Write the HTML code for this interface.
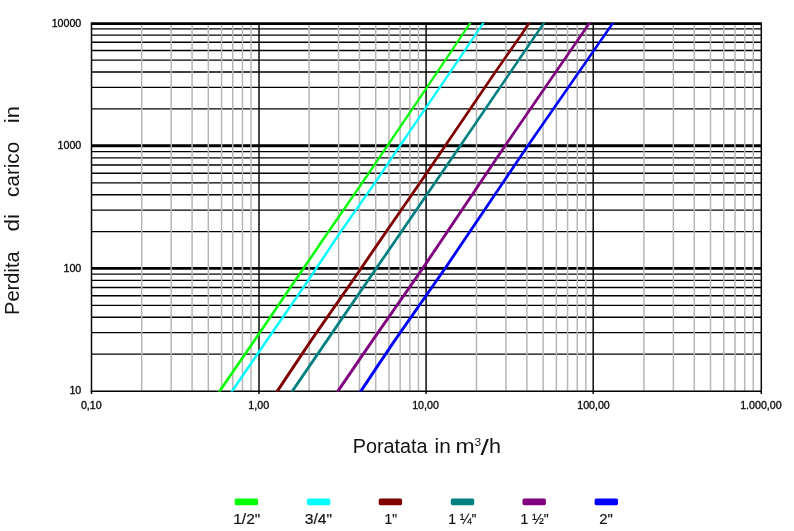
<!DOCTYPE html>
<html><head><meta charset="utf-8"><title>Perdita di carico</title>
<style>
html,body{margin:0;padding:0;background:#fff;}
body{width:794px;height:531px;overflow:hidden;}
svg{display:block;}
text{font-family:"Liberation Sans",sans-serif;fill:#131313;}
.tk{font-size:10.67px;fill:#0a0a0a;stroke:#0a0a0a;stroke-width:0.33px;}
.ttl{font-size:19.5px;}
.lg{font-size:15px;stroke:#131313;stroke-width:0.2px;}
</style></head><body>
<svg width="794" height="531" viewBox="0 0 794 531">
<rect width="794" height="531" fill="#fff"/>

<g stroke="#000" stroke-width="1.38">
<line x1="91.60" y1="354.13" x2="761.20" y2="354.13"/>
<line x1="91.60" y1="332.57" x2="761.20" y2="332.57"/>
<line x1="91.60" y1="317.27" x2="761.20" y2="317.27"/>
<line x1="91.60" y1="305.40" x2="761.20" y2="305.40"/>
<line x1="91.60" y1="295.70" x2="761.20" y2="295.70"/>
<line x1="91.60" y1="287.50" x2="761.20" y2="287.50"/>
<line x1="91.60" y1="280.40" x2="761.20" y2="280.40"/>
<line x1="91.60" y1="274.14" x2="761.20" y2="274.14"/>
<line x1="91.60" y1="231.67" x2="761.20" y2="231.67"/>
<line x1="91.60" y1="210.10" x2="761.20" y2="210.10"/>
<line x1="91.60" y1="194.80" x2="761.20" y2="194.80"/>
<line x1="91.60" y1="182.93" x2="761.20" y2="182.93"/>
<line x1="91.60" y1="173.24" x2="761.20" y2="173.24"/>
<line x1="91.60" y1="165.04" x2="761.20" y2="165.04"/>
<line x1="91.60" y1="157.93" x2="761.20" y2="157.93"/>
<line x1="91.60" y1="151.67" x2="761.20" y2="151.67"/>
<line x1="91.60" y1="108.90" x2="761.20" y2="108.90"/>
<line x1="91.60" y1="87.34" x2="761.20" y2="87.34"/>
<line x1="91.60" y1="72.03" x2="761.20" y2="72.03"/>
<line x1="91.60" y1="60.17" x2="761.20" y2="60.17"/>
<line x1="91.60" y1="50.47" x2="761.20" y2="50.47"/>
<line x1="91.60" y1="42.27" x2="761.20" y2="42.27"/>
<line x1="91.60" y1="35.17" x2="761.20" y2="35.17"/>
<line x1="91.60" y1="28.90" x2="761.20" y2="28.90"/>
</g>
<g stroke="#000">
<line x1="91.60" y1="145.72" x2="761.20" y2="145.72" stroke-width="3.0"/>
<line x1="91.60" y1="268.38" x2="761.20" y2="268.38" stroke-width="2.7"/>
</g>
<g stroke="#b6b6b6" stroke-width="1.5">
<line x1="141.69" y1="24.60" x2="141.69" y2="391.00"/>
<line x1="171.17" y1="24.60" x2="171.17" y2="391.00"/>
<line x1="192.08" y1="24.60" x2="192.08" y2="391.00"/>
<line x1="208.31" y1="24.60" x2="208.31" y2="391.00"/>
<line x1="221.56" y1="24.60" x2="221.56" y2="391.00"/>
<line x1="232.77" y1="24.60" x2="232.77" y2="391.00"/>
<line x1="242.48" y1="24.60" x2="242.48" y2="391.00"/>
<line x1="251.04" y1="24.60" x2="251.04" y2="391.00"/>
<line x1="309.09" y1="24.60" x2="309.09" y2="391.00"/>
<line x1="338.57" y1="24.60" x2="338.57" y2="391.00"/>
<line x1="359.48" y1="24.60" x2="359.48" y2="391.00"/>
<line x1="375.71" y1="24.60" x2="375.71" y2="391.00"/>
<line x1="388.96" y1="24.60" x2="388.96" y2="391.00"/>
<line x1="400.17" y1="24.60" x2="400.17" y2="391.00"/>
<line x1="409.88" y1="24.60" x2="409.88" y2="391.00"/>
<line x1="418.44" y1="24.60" x2="418.44" y2="391.00"/>
<line x1="476.49" y1="24.60" x2="476.49" y2="391.00"/>
<line x1="505.97" y1="24.60" x2="505.97" y2="391.00"/>
<line x1="526.88" y1="24.60" x2="526.88" y2="391.00"/>
<line x1="543.11" y1="24.60" x2="543.11" y2="391.00"/>
<line x1="556.36" y1="24.60" x2="556.36" y2="391.00"/>
<line x1="567.57" y1="24.60" x2="567.57" y2="391.00"/>
<line x1="577.28" y1="24.60" x2="577.28" y2="391.00"/>
<line x1="585.84" y1="24.60" x2="585.84" y2="391.00"/>
<line x1="643.89" y1="24.60" x2="643.89" y2="391.00"/>
<line x1="673.37" y1="24.60" x2="673.37" y2="391.00"/>
<line x1="694.28" y1="24.60" x2="694.28" y2="391.00"/>
<line x1="710.51" y1="24.60" x2="710.51" y2="391.00"/>
<line x1="723.76" y1="24.60" x2="723.76" y2="391.00"/>
<line x1="734.97" y1="24.60" x2="734.97" y2="391.00"/>
<line x1="744.68" y1="24.60" x2="744.68" y2="391.00"/>
<line x1="753.24" y1="24.60" x2="753.24" y2="391.00"/>
</g>
<g stroke="#000">
<line x1="90.80" y1="23.60" x2="761.80" y2="23.60" stroke-width="2.6"/>
<line x1="90.80" y1="391.15" x2="761.80" y2="391.15" stroke-width="1.45"/>
</g>
<g stroke="#0a0a0a">
<line x1="91.50" y1="23.60" x2="91.50" y2="393.90" stroke-width="1.5"/>
<line x1="259.00" y1="23.60" x2="259.00" y2="393.90" stroke-width="1.5"/>
<line x1="426.10" y1="23.60" x2="426.10" y2="393.90" stroke-width="1.5"/>
<line x1="593.20" y1="23.60" x2="593.20" y2="393.90" stroke-width="1.5"/>
<line x1="761.30" y1="23.60" x2="761.30" y2="393.90" stroke-width="1.5"/>
</g>
<defs><clipPath id="cp"><rect x="91.6" y="23.0" width="669.6" height="368.4"/></clipPath></defs>
<g clip-path="url(#cp)">
<polygon points="215.32,395.0 219.44,389.0 223.58,383.0 227.71,377.0 231.84,371.0 235.98,365.0 240.11,359.0 244.24,353.0 248.38,347.0 252.51,341.0 256.60,335.0 260.68,329.0 264.75,323.0 268.83,317.0 272.91,311.0 276.99,305.0 281.06,299.0 285.14,293.0 289.22,287.0 293.33,281.0 297.47,275.0 301.60,269.0 305.69,263.0 309.76,257.0 313.84,251.0 317.91,245.0 321.99,239.0 326.09,233.0 330.24,227.0 334.39,221.0 338.54,215.0 342.69,209.0 346.84,203.0 350.99,197.0 355.14,191.0 359.29,185.0 363.43,179.0 367.51,173.0 371.59,167.0 375.67,161.0 379.75,155.0 383.83,149.0 387.91,143.0 391.97,137.0 396.03,131.0 400.10,125.0 404.16,119.0 408.23,113.0 412.29,107.0 416.36,101.0 420.42,95.0 424.49,89.0 428.55,83.0 432.62,77.0 436.67,71.0 440.71,65.0 444.74,59.0 448.77,53.0 452.80,47.0 456.84,41.0 460.87,35.0 464.90,29.0 468.94,23.0 471.48,23.0 467.46,29.0 463.43,35.0 459.41,41.0 455.39,47.0 451.37,53.0 447.35,59.0 443.33,65.0 439.31,71.0 435.26,77.0 431.21,83.0 427.16,89.0 423.11,95.0 419.05,101.0 415.00,107.0 410.95,113.0 406.89,119.0 402.84,125.0 398.79,131.0 394.73,137.0 390.68,143.0 386.62,149.0 382.55,155.0 378.48,161.0 374.41,167.0 370.35,173.0 366.28,179.0 362.15,185.0 358.01,191.0 353.87,197.0 349.73,203.0 345.60,209.0 341.46,215.0 337.32,221.0 333.18,227.0 329.04,233.0 324.95,239.0 320.89,245.0 316.83,251.0 312.76,257.0 308.70,263.0 304.63,269.0 300.51,275.0 296.38,281.0 292.28,287.0 288.22,293.0 284.15,299.0 280.08,305.0 276.02,311.0 271.95,317.0 267.89,323.0 263.82,329.0 259.75,335.0 255.68,341.0 251.56,347.0 247.44,353.0 243.31,359.0 239.19,365.0 235.07,371.0 230.95,377.0 226.83,383.0 222.71,389.0 218.59,395.0" fill="#00ff00"/>
<polygon points="227.88,395.0 232.00,389.0 236.10,383.0 240.21,377.0 244.31,371.0 248.42,365.0 252.52,359.0 256.63,353.0 260.74,347.0 264.84,341.0 268.98,335.0 273.14,329.0 277.29,323.0 281.44,317.0 285.59,311.0 289.74,305.0 293.89,299.0 298.04,293.0 302.19,287.0 306.27,281.0 310.32,275.0 314.36,269.0 318.36,263.0 322.35,257.0 326.33,251.0 330.32,245.0 334.31,239.0 338.37,233.0 342.57,227.0 346.77,221.0 350.97,215.0 355.17,209.0 359.38,203.0 363.58,197.0 367.78,191.0 371.98,185.0 376.16,179.0 380.19,173.0 384.23,167.0 388.26,161.0 392.30,155.0 396.33,149.0 400.40,143.0 404.51,137.0 408.61,131.0 412.71,125.0 416.82,119.0 420.92,113.0 425.02,107.0 429.13,101.0 433.23,95.0 437.34,89.0 441.44,83.0 445.54,77.0 449.63,71.0 453.67,65.0 457.72,59.0 461.76,53.0 465.80,47.0 469.85,41.0 473.89,35.0 477.94,29.0 481.98,23.0 484.64,23.0 480.61,29.0 476.57,35.0 472.53,41.0 468.50,47.0 464.46,53.0 460.42,59.0 456.39,65.0 452.35,71.0 448.28,77.0 444.18,83.0 440.08,89.0 435.99,95.0 431.89,101.0 427.80,107.0 423.70,113.0 419.61,119.0 415.51,125.0 411.41,131.0 407.32,137.0 403.22,143.0 399.16,149.0 395.13,155.0 391.11,161.0 387.08,167.0 383.05,173.0 379.02,179.0 374.86,185.0 370.66,191.0 366.47,197.0 362.27,203.0 358.08,209.0 353.89,215.0 349.69,221.0 345.50,227.0 341.30,233.0 337.25,239.0 333.27,245.0 329.30,251.0 325.32,257.0 321.34,263.0 317.35,269.0 313.31,275.0 309.28,281.0 305.20,287.0 301.06,293.0 296.92,299.0 292.77,305.0 288.63,311.0 284.49,317.0 280.34,323.0 276.20,329.0 272.06,335.0 267.92,341.0 263.82,347.0 259.73,353.0 255.63,359.0 251.53,365.0 247.43,371.0 243.33,377.0 239.24,383.0 235.14,389.0 231.02,395.0" fill="#00ffff"/>
<polygon points="272.85,395.0 276.92,389.0 280.93,383.0 284.93,377.0 288.94,371.0 292.94,365.0 296.95,359.0 300.96,353.0 304.96,347.0 308.97,341.0 313.11,335.0 317.29,329.0 321.47,323.0 325.64,317.0 329.82,311.0 334.00,305.0 338.17,299.0 342.35,293.0 346.53,287.0 350.67,281.0 354.79,275.0 358.91,269.0 363.03,263.0 367.14,257.0 371.25,251.0 375.36,245.0 379.47,239.0 383.59,233.0 387.74,227.0 391.89,221.0 396.04,215.0 400.19,209.0 404.35,203.0 408.50,197.0 412.65,191.0 416.80,185.0 420.94,179.0 425.02,173.0 429.11,167.0 433.20,161.0 437.28,155.0 441.37,149.0 445.45,143.0 449.53,137.0 453.61,131.0 457.69,125.0 461.77,119.0 465.85,113.0 469.93,107.0 474.00,101.0 478.08,95.0 482.16,89.0 486.24,83.0 490.32,77.0 494.44,71.0 498.62,65.0 502.81,59.0 507.00,53.0 511.18,47.0 515.37,41.0 519.56,35.0 523.56,29.0 527.53,23.0 530.68,23.0 526.72,29.0 522.72,35.0 518.54,41.0 514.36,47.0 510.18,53.0 506.00,59.0 501.82,65.0 497.65,71.0 493.54,77.0 489.47,83.0 485.40,89.0 481.32,95.0 477.25,101.0 473.18,107.0 469.11,113.0 465.04,119.0 460.97,125.0 456.90,131.0 452.82,137.0 448.75,143.0 444.68,149.0 440.60,155.0 436.52,161.0 432.45,167.0 428.37,173.0 424.29,179.0 420.16,185.0 416.01,191.0 411.87,197.0 407.73,203.0 403.58,209.0 399.44,215.0 395.30,221.0 391.15,227.0 387.01,233.0 382.90,239.0 378.79,245.0 374.69,251.0 370.59,257.0 366.49,263.0 362.38,269.0 358.27,275.0 354.15,281.0 350.02,287.0 345.85,293.0 341.68,299.0 337.51,305.0 333.34,311.0 329.18,317.0 325.01,323.0 320.84,329.0 316.67,335.0 312.53,341.0 308.53,347.0 304.54,353.0 300.54,359.0 296.54,365.0 292.54,371.0 288.54,377.0 284.55,383.0 280.55,389.0 276.48,395.0" fill="#800000"/>
<polygon points="287.93,395.0 292.02,389.0 296.13,383.0 300.24,377.0 304.35,371.0 308.46,365.0 312.57,359.0 316.68,353.0 320.79,347.0 324.90,341.0 329.01,335.0 333.11,329.0 337.22,323.0 341.32,317.0 345.42,311.0 349.53,305.0 353.63,299.0 357.74,293.0 361.84,287.0 365.94,281.0 370.05,275.0 374.15,269.0 378.28,263.0 382.42,257.0 386.55,251.0 390.68,245.0 394.82,239.0 398.94,233.0 403.06,227.0 407.17,221.0 411.28,215.0 415.39,209.0 419.50,203.0 423.61,197.0 427.72,191.0 431.83,185.0 435.94,179.0 440.05,173.0 444.17,167.0 448.28,161.0 452.39,155.0 456.50,149.0 460.60,143.0 464.69,137.0 468.78,131.0 472.87,125.0 476.96,119.0 481.05,113.0 485.14,107.0 489.23,101.0 493.32,95.0 497.41,89.0 501.50,83.0 505.59,77.0 509.68,71.0 513.77,65.0 517.86,59.0 521.95,53.0 526.04,47.0 530.13,41.0 534.22,35.0 538.31,29.0 542.40,23.0 545.42,23.0 541.34,29.0 537.26,35.0 533.17,41.0 529.09,47.0 525.01,53.0 520.93,59.0 516.85,65.0 512.76,71.0 508.68,77.0 504.60,83.0 500.52,89.0 496.44,95.0 492.36,101.0 488.27,107.0 484.19,113.0 480.11,119.0 476.03,125.0 471.95,131.0 467.86,137.0 463.78,143.0 459.69,149.0 455.59,155.0 451.48,161.0 447.38,167.0 443.28,173.0 439.17,179.0 435.07,185.0 430.97,191.0 426.86,197.0 422.76,203.0 418.66,209.0 414.55,215.0 410.45,221.0 406.35,227.0 402.25,233.0 398.13,239.0 394.00,245.0 389.88,251.0 385.75,257.0 381.62,263.0 377.50,269.0 373.41,275.0 369.31,281.0 365.21,287.0 361.12,293.0 357.02,299.0 352.92,305.0 348.83,311.0 344.73,317.0 340.64,323.0 336.54,329.0 332.44,335.0 328.35,341.0 324.24,347.0 320.14,353.0 316.04,359.0 311.93,365.0 307.83,371.0 303.73,377.0 299.63,383.0 295.52,389.0 291.44,395.0" fill="#008080"/>
<polygon points="333.43,395.0 337.55,389.0 341.66,383.0 345.76,377.0 349.86,371.0 353.97,365.0 358.07,359.0 362.18,353.0 366.28,347.0 370.38,341.0 374.55,335.0 378.73,329.0 382.91,323.0 387.09,317.0 391.27,311.0 395.45,305.0 399.63,299.0 403.82,293.0 408.00,287.0 412.18,281.0 416.36,275.0 420.54,269.0 424.59,263.0 428.63,257.0 432.66,251.0 436.70,245.0 440.73,239.0 444.77,233.0 448.80,227.0 452.83,221.0 456.87,215.0 460.90,209.0 464.94,203.0 468.97,197.0 473.01,191.0 477.04,185.0 481.07,179.0 485.11,173.0 489.14,167.0 493.18,161.0 497.21,155.0 501.24,149.0 505.32,143.0 509.45,137.0 513.59,131.0 517.72,125.0 521.85,119.0 525.98,113.0 530.11,107.0 534.24,101.0 538.37,95.0 542.50,89.0 546.63,83.0 550.76,77.0 554.89,71.0 559.02,65.0 563.15,59.0 567.29,53.0 571.42,47.0 575.55,41.0 579.68,35.0 583.81,29.0 587.94,23.0 591.08,23.0 586.96,29.0 582.84,35.0 578.72,41.0 574.59,47.0 570.47,53.0 566.35,59.0 562.22,65.0 558.10,71.0 553.98,77.0 549.86,83.0 545.73,89.0 541.61,95.0 537.49,101.0 533.36,107.0 529.24,113.0 525.12,119.0 521.00,125.0 516.87,131.0 512.75,137.0 508.63,143.0 504.56,149.0 500.53,155.0 496.50,161.0 492.48,167.0 488.45,173.0 484.42,179.0 480.40,185.0 476.37,191.0 472.35,197.0 468.32,203.0 464.29,209.0 460.27,215.0 456.24,221.0 452.21,227.0 448.19,233.0 444.16,239.0 440.14,245.0 436.11,251.0 432.08,257.0 428.06,263.0 424.01,269.0 419.83,275.0 415.66,281.0 411.49,287.0 407.32,293.0 403.14,299.0 398.97,305.0 394.80,311.0 390.63,317.0 386.45,323.0 382.28,329.0 378.11,335.0 373.95,341.0 369.85,347.0 365.76,353.0 361.66,359.0 357.56,365.0 353.47,371.0 349.37,377.0 345.28,383.0 341.18,389.0 337.06,395.0" fill="#800080"/>
<polygon points="356.43,395.0 360.51,389.0 364.50,383.0 368.49,377.0 372.47,371.0 376.47,365.0 380.51,359.0 384.54,353.0 388.58,347.0 392.62,341.0 396.79,335.0 400.99,329.0 405.18,323.0 409.38,317.0 413.58,311.0 417.77,305.0 421.97,299.0 426.17,293.0 430.36,287.0 434.56,281.0 438.76,275.0 442.96,269.0 447.03,263.0 451.08,257.0 455.14,251.0 459.19,245.0 463.24,239.0 467.29,233.0 471.34,227.0 475.40,221.0 479.45,215.0 483.50,209.0 487.55,203.0 491.61,197.0 495.66,191.0 499.71,185.0 503.76,179.0 507.82,173.0 511.87,167.0 515.92,161.0 519.97,155.0 524.03,149.0 528.13,143.0 532.29,137.0 536.46,131.0 540.62,125.0 544.78,119.0 548.95,113.0 553.11,107.0 557.28,101.0 561.44,95.0 565.60,89.0 569.77,83.0 573.93,77.0 578.09,71.0 582.26,65.0 586.42,59.0 590.58,53.0 594.75,47.0 598.91,41.0 603.08,35.0 607.24,29.0 611.40,23.0 614.43,23.0 610.27,29.0 606.12,35.0 601.97,41.0 597.81,47.0 593.66,53.0 589.50,59.0 585.35,65.0 581.20,71.0 577.04,77.0 572.89,83.0 568.74,89.0 564.58,95.0 560.43,101.0 556.27,107.0 552.12,113.0 547.97,119.0 543.81,125.0 539.66,131.0 535.50,137.0 531.35,143.0 527.26,149.0 523.21,155.0 519.17,161.0 515.13,167.0 511.09,173.0 507.04,179.0 503.00,185.0 498.96,191.0 494.92,197.0 490.87,203.0 486.83,209.0 482.79,215.0 478.75,221.0 474.70,227.0 470.66,233.0 466.62,239.0 462.58,245.0 458.53,251.0 454.49,257.0 450.45,263.0 446.38,269.0 442.20,275.0 438.01,281.0 433.82,287.0 429.64,293.0 425.45,299.0 421.26,305.0 417.08,311.0 412.89,317.0 408.70,323.0 404.51,329.0 400.33,335.0 396.17,341.0 392.14,347.0 388.11,353.0 384.08,359.0 380.05,365.0 376.07,371.0 372.09,377.0 368.12,383.0 364.14,389.0 360.06,395.0" fill="#0000ff"/>
</g>
<text class="tk" x="81.3" y="26.80" text-anchor="end">10000</text>
<text class="tk" x="81.3" y="149.27" text-anchor="end">1000</text>
<text class="tk" x="81.3" y="271.73" text-anchor="end">100</text>
<text class="tk" x="81.3" y="394.20" text-anchor="end">10</text>
<text class="tk" x="91.30" y="408.55" text-anchor="middle">0,10</text>
<text class="tk" x="258.70" y="408.55" text-anchor="middle">1,00</text>
<text class="tk" x="425.50" y="408.55" text-anchor="middle">10,00</text>
<text class="tk" x="593.50" y="408.55" text-anchor="middle">100,00</text>
<text class="tk" x="760.90" y="408.55" text-anchor="middle">1.000,00</text>
<text class="ttl" style="font-size:20.4px" transform="translate(18.9,314.9) rotate(-90)" textLength="63.5" lengthAdjust="spacingAndGlyphs">Perdita</text>
<text class="ttl" style="font-size:20.4px" transform="translate(18.9,231.6) rotate(-90)" textLength="17.7" lengthAdjust="spacingAndGlyphs">di</text>
<text class="ttl" style="font-size:20.4px" transform="translate(18.9,196.9) rotate(-90)" textLength="55.1" lengthAdjust="spacingAndGlyphs">carico</text>
<text class="ttl" style="font-size:20.4px" transform="translate(18.9,123.2) rotate(-90)" textLength="17.0" lengthAdjust="spacingAndGlyphs">in</text>
<text class="ttl" x="352.7" y="453.3" textLength="74.8" lengthAdjust="spacingAndGlyphs">Poratata</text>
<text class="ttl" x="434.6" y="453.3" textLength="16.2" lengthAdjust="spacingAndGlyphs">in</text>
<text class="ttl" x="455.4" y="453.3" textLength="19.2" lengthAdjust="spacingAndGlyphs">m</text>
<text x="474.4" y="446.0" style="font-size:10.4px" textLength="6.6" lengthAdjust="spacingAndGlyphs">3</text>
<text class="ttl" x="480.6" y="454.6" textLength="8.4" lengthAdjust="spacingAndGlyphs" style="font-size:22px">/</text>
<text class="ttl" x="489.0" y="453.3" textLength="12.0" lengthAdjust="spacingAndGlyphs">h</text>
<rect x="234.7" y="498.5" width="23.4" height="6.7" rx="1.6" fill="#00ff00"/>
<rect x="306.9" y="498.5" width="23.4" height="6.7" rx="1.6" fill="#00ffff"/>
<rect x="378.7" y="498.5" width="23.4" height="6.7" rx="1.6" fill="#800000"/>
<rect x="450.8" y="498.5" width="23.4" height="6.7" rx="1.6" fill="#008080"/>
<rect x="522.5" y="498.5" width="23.4" height="6.7" rx="1.6" fill="#800080"/>
<rect x="594.6" y="498.5" width="23.4" height="6.7" rx="1.6" fill="#0000ff"/>
<text class="lg" x="233.2" y="524.1" textLength="27.1" lengthAdjust="spacingAndGlyphs">1/2"</text>
<text class="lg" x="304.8" y="524.1" textLength="27.3" lengthAdjust="spacingAndGlyphs">3/4"</text>
<text class="lg" x="384.6" y="524.1" textLength="12.6" lengthAdjust="spacingAndGlyphs">1"</text>
<text class="lg" x="448.3" y="524.1" textLength="28.3" lengthAdjust="spacingAndGlyphs">1 ¼"</text>
<text class="lg" x="520.6" y="524.1" textLength="28.1" lengthAdjust="spacingAndGlyphs">1 ½"</text>
<text class="lg" x="599.3" y="524.1" textLength="13.6" lengthAdjust="spacingAndGlyphs">2"</text>
</svg></body></html>
